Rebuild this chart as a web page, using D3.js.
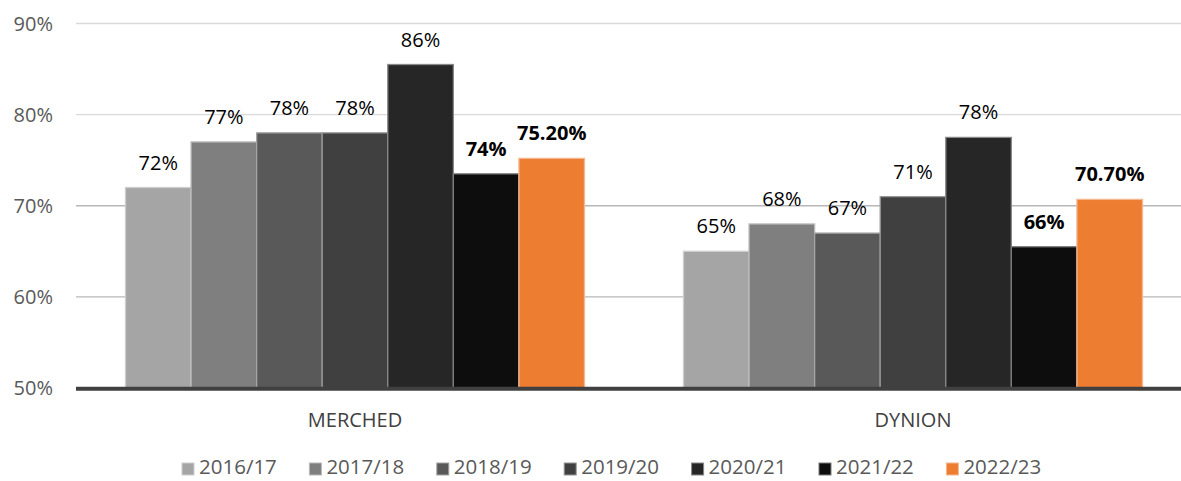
<!DOCTYPE html>
<html>
<head>
<meta charset="utf-8">
<script src="https://cdn.jsdelivr.net/npm/d3@7"></script>
<style>
  body { margin: 0; background: #fff; }
  svg { display: block; font-family: "Open Sans", sans-serif; }
</style>
</head>
<body>
<div id="chart"></div>
<script>
const categories = ["MERCHED", "DYNION"];
const years = ["2016/17", "2017/18", "2018/19", "2019/20", "2020/21", "2021/22", "2022/23"];
const colors = ["#a5a5a5", "#7f7f7f", "#595959", "#404040", "#262626", "#0d0d0d", "#ed7d31"];
const merchedValues = [72, 77, 78, 78, 85.5, 73.5, 75.2];
const dynionValues = [65, 68, 67, 71, 77.5, 65.5, 70.7];
const merchedLabels = ["72%", "77%", "78%", "78%", "86%", "74%", "75.20%"];
const dynionLabels = ["65%", "68%", "67%", "71%", "78%", "66%", "70.70%"];
const yTicks = [50, 60, 70, 80, 90];
const boldYears = ["2021/22", "2022/23"];

const width = 1181, height = 481;
const values = { MERCHED: merchedValues, DYNION: dynionValues };
const labels = { MERCHED: merchedLabels, DYNION: dynionLabels };

const svg = d3.select("#chart").append("svg")
  .attr("width", width)
  .attr("height", height);

const x0 = d3.scaleBand().domain(categories).range([76, 1192])
  .paddingInner(0.1774).paddingOuter(0.0887);
const x1 = d3.scaleBand().domain(years).range([0, x0.bandwidth()]);
const y = d3.scaleLinear().domain([50, 90]).range([388, 23.5]);
const color = d3.scaleOrdinal().domain(years).range(colors);

// gridlines
svg.append("g")
  .selectAll("line")
  .data(yTicks.filter(d => d > 50))
  .join("line")
  .attr("x1", 76).attr("x2", width)
  .attr("y1", d => y(d)).attr("y2", d => y(d))
  .attr("stroke", d => d >= 80 ? "#d9d9d9" : "#b8b8b8")
  .attr("stroke-width", 1.3);

// y labels
svg.append("g")
  .selectAll("text")
  .data(yTicks)
  .join("text")
  .attr("x", 53)
  .attr("y", d => y(d) + 7)
  .attr("text-anchor", "end")
  .attr("fill", "#595959")
  .style("font-size", "20px")
  .text(d => d + "%");

const rows = categories.flatMap(c => years.map((yr, i) => ({
  cat: c, year: yr, value: values[c][i], label: labels[c][i]
})));

// bars
svg.append("g")
  .selectAll("rect")
  .data(rows)
  .join("rect")
  .attr("x", d => x0(d.cat) + x1(d.year))
  .attr("y", d => y(d.value))
  .attr("width", x1.bandwidth())
  .attr("height", d => y(50) - y(d.value))
  .attr("fill", d => color(d.year))
  .attr("stroke", d => d3.interpolateRgb(color(d.year), "#fff")(0.45))
  .attr("stroke-width", 1.3);

// value labels
svg.append("g")
  .selectAll("text")
  .data(rows)
  .join("text")
  .attr("x", d => x0(d.cat) + x1(d.year) + x1.bandwidth() / 2)
  .attr("y", d => y(d.value) - 18)
  .attr("text-anchor", "middle")
  .attr("fill", "#000")
  .style("font-size", "20px")
  .style("font-weight", d => boldYears.includes(d.year) ? "bold" : "normal")
  .text(d => d.label);

// baseline
svg.append("line")
  .attr("x1", 76).attr("x2", width)
  .attr("y1", y(50) + 0.7).attr("y2", y(50) + 0.7)
  .attr("stroke", "#404040")
  .attr("stroke-width", 4);

// category labels
svg.append("g")
  .selectAll("text")
  .data(categories)
  .join("text")
  .attr("x", d => x0(d) + x0.bandwidth() / 2)
  .attr("y", 427)
  .attr("text-anchor", "middle")
  .attr("fill", "#404040")
  .style("font-size", "20px")
  .text(d => d);

// legend
const legend = svg.append("g")
  .selectAll("g")
  .data(years)
  .join("g")
  .attr("transform", (d, i) => `translate(${182 + i * 127.4},463)`);

legend.append("rect")
  .attr("width", 12).attr("height", 12)
  .attr("fill", d => color(d))
  .attr("stroke", d => d3.interpolateRgb(color(d), "#fff")(0.45))
  .attr("stroke-width", 1);

legend.append("text")
  .attr("x", 17)
  .attr("y", 11)
  .attr("fill", "#595959")
  .style("font-size", "20.5px")
  .text(d => d);
</script>
</body>
</html>
